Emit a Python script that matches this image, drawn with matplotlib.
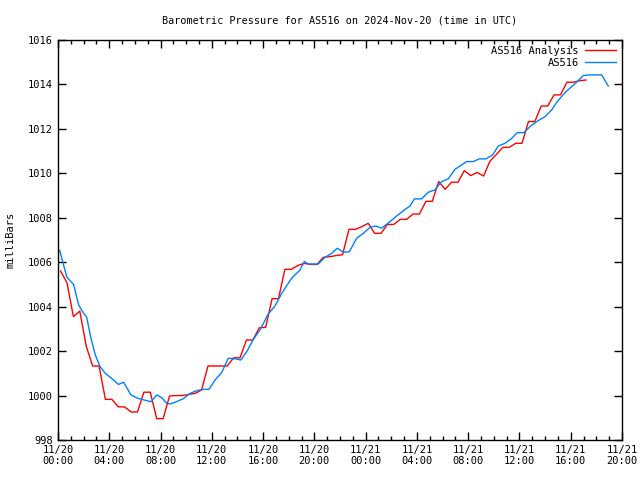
import numpy as np
import matplotlib.pyplot as plt
from matplotlib.ticker import MultipleLocator

# hours since 2024-11-20 00:00 UTC
analysis_hours = np.arange(0.2, 41.3, 0.5)
analysis_mb = [1005.6, 1005.08, 1003.55, 1003.8, 1002.23, 1001.33, 1001.33, 999.83, 999.83, 999.49,
               999.49, 999.26, 999.26, 1000.15, 1000.15, 998.96, 998.96, 999.98, 1000.0, 1000.0,
               1000.05, 1000.1, 1000.25, 1001.33, 1001.33, 1001.33, 1001.33, 1001.7, 1001.7, 1002.5,
               1002.5, 1003.05, 1003.07, 1004.36, 1004.36, 1005.68, 1005.68, 1005.85, 1005.95, 1005.9,
               1005.9, 1006.22, 1006.25, 1006.3, 1006.34, 1007.48, 1007.48, 1007.6, 1007.75, 1007.3,
               1007.3, 1007.7, 1007.7, 1007.93, 1007.93, 1008.17, 1008.17, 1008.74, 1008.74, 1009.63,
               1009.28, 1009.6, 1009.6, 1010.12, 1009.9, 1010.04, 1009.88, 1010.55, 1010.85, 1011.17,
               1011.17, 1011.35, 1011.35, 1012.33, 1012.33, 1013.03, 1013.03, 1013.53, 1013.53, 1014.1,
               1014.1, 1014.17, 1014.2]

obs_hours = [0.0, 0.15, 0.36, 0.7, 1.22, 1.61, 1.92, 2.24, 2.57, 2.91, 3.28, 3.69, 4.13, 4.71, 5.12,
             5.69, 6.2, 6.73, 7.25, 7.72, 8.1, 8.48, 8.74, 9.26, 9.78, 10.3, 10.82, 11.34, 11.78,
             12.25, 12.77, 13.28, 13.88, 14.27, 14.77, 15.24, 15.76, 16.4, 16.93, 17.45, 18.23,
             18.88, 19.22, 19.53, 20.3, 20.83, 21.35, 21.79, 22.26, 22.73, 23.3, 23.82, 24.34, 24.8,
             25.25, 25.9, 26.42, 26.94, 27.46, 27.8, 28.37, 28.89, 29.4, 29.93, 30.44, 30.97, 31.49,
             31.88, 32.4, 32.86, 33.39, 33.91, 34.35, 34.87, 35.39, 35.83, 36.35, 36.87, 37.46,
             37.99, 38.51, 38.95, 39.55, 40.07, 40.59, 40.98, 41.5, 42.41, 42.93]
obs_mb = [1006.6, 1006.5, 1006.03, 1005.32, 1005.0, 1004.08, 1003.77, 1003.52, 1002.58, 1001.83,
          1001.3, 1001.0, 1000.8, 1000.5, 1000.6, 1000.03, 999.88, 999.8, 999.72, 1000.03, 999.9,
          999.65, 999.62, 999.73, 999.86, 1000.1, 1000.22, 1000.28, 1000.28, 1000.7, 1001.03,
          1001.68, 1001.65, 1001.6, 1002.02, 1002.53, 1002.95, 1003.67, 1004.03, 1004.6, 1005.28,
          1005.65, 1006.03, 1005.92, 1005.92, 1006.22, 1006.4, 1006.63, 1006.45, 1006.47, 1007.08,
          1007.3, 1007.57, 1007.63, 1007.53, 1007.83, 1008.08, 1008.32, 1008.53, 1008.85, 1008.85,
          1009.15, 1009.25, 1009.63, 1009.75, 1010.18, 1010.38, 1010.53, 1010.53, 1010.65, 1010.65,
          1010.83, 1011.23, 1011.35, 1011.57, 1011.83, 1011.83, 1012.13, 1012.37, 1012.55, 1012.85,
          1013.23, 1013.63, 1013.9, 1014.17, 1014.4, 1014.43, 1014.43, 1013.93]

tick_hours = [0, 4, 8, 12, 16, 20, 24, 28, 32, 36, 40, 44]
tick_labels = ['11/20\n00:00', '11/20\n04:00', '11/20\n08:00', '11/20\n12:00', '11/20\n16:00',
               '11/20\n20:00', '11/21\n00:00', '11/21\n04:00', '11/21\n08:00', '11/21\n12:00',
               '11/21\n16:00', '11/21\n20:00']

plt.rcParams['font.family'] = 'DejaVu Sans Mono'
fig = plt.figure(figsize=(6.4, 4.8), dpi=100)
ax = fig.add_axes([58/640, 40/480, 564/640, 400/480])

ax.plot(analysis_hours, analysis_mb, color='#ff0000', lw=1, label='AS516 Analysis')
ax.plot(obs_hours, obs_mb, color='#0080ff', lw=1, label='AS516')

ax.set_xlim(0, 44)
ax.set_ylim(998, 1016)
ax.set_xticks(tick_hours)
ax.set_xticklabels(tick_labels, fontsize=7.5)
ax.xaxis.set_minor_locator(MultipleLocator(1))
ax.yaxis.set_major_locator(MultipleLocator(2))
ax.tick_params(axis='y', labelsize=7.5)
ax.tick_params(which='both', direction='in', top=True, right=True, width=1)
ax.tick_params(which='major', length=6)
ax.tick_params(which='minor', length=3)
for s in ax.spines.values():
    s.set_linewidth(1)

ax.set_ylabel('milliBars', fontsize=7.5, labelpad=9)
ax.set_title('Barometric Pressure for AS516 on 2024-Nov-20 (time in UTC)', fontsize=7.3, pad=12)
ax.legend(loc='upper right', frameon=False, markerfirst=False, fontsize=7.5,
          handlelength=3.0, borderaxespad=0.15, labelspacing=0.2, handletextpad=0.6)

fig.savefig('out.png', dpi=100)
